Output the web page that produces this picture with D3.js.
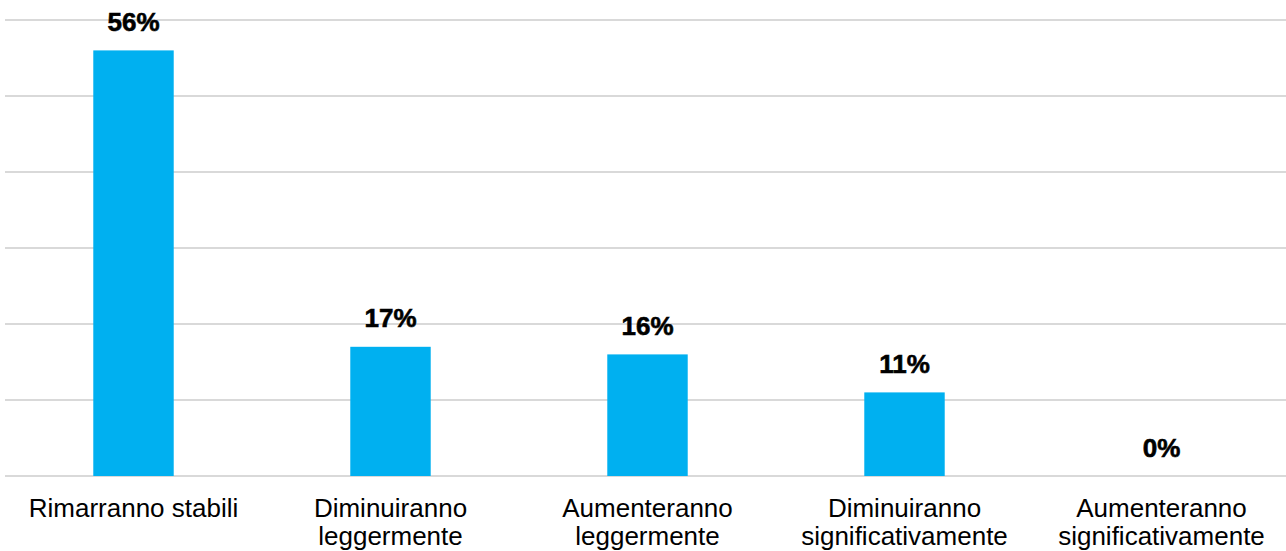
<!DOCTYPE html>
<html><head><meta charset="utf-8">
<script src="https://cdn.jsdelivr.net/npm/d3@7"></script>
<style>body{margin:0;background:#fff}svg{display:block}</style>
</head><body>
<svg id="c" width="1286" height="551"></svg>
<script>
const categories = [["Rimarranno stabili"],["Diminuiranno","leggermente"],["Aumenteranno","leggermente"],["Diminuiranno","significativamente"],["Aumenteranno","significativamente"]];
const values = [56, 17, 16, 11, 0];
const yTicks = [0, 10, 20, 30, 40, 50, 60];

const svg = d3.select("#c");
const W = 1286, H = 551;
const x = d3.scaleBand().domain(d3.range(categories.length)).range([5, 1290]).paddingInner(0.687).paddingOuter(0.3435);
const y = d3.scaleLinear().domain([0, 60]).range([476, 20]);

svg.append("g").selectAll("line").data(yTicks).join("line")
  .attr("x1", 5).attr("x2", W).attr("y1", d => y(d)).attr("y2", d => y(d))
  .attr("stroke", "#d9d9d9").attr("stroke-width", 2);

svg.append("g").selectAll("rect").data(values).join("rect")
  .attr("x", (d,i) => x(i)).attr("width", x.bandwidth())
  .attr("y", d => y(d)).attr("height", d => y(0) - y(d))
  .attr("fill", "#00b0f0");

svg.append("g").selectAll("text").data(values).join("text")
  .attr("x", (d,i) => x(i) + x.bandwidth()/2).attr("y", d => y(d) - 19.5)
  .attr("text-anchor", "middle").attr("font-family", "Liberation Sans, Arial, sans-serif")
  .attr("font-weight", "bold").attr("font-size", 26).attr("fill", "#000")
  .attr("stroke", "#000").attr("stroke-width", 0.6)
  .text(d => d + "%");

const lab = svg.append("g").selectAll("text").data(categories).join("text")
  .attr("x", (d,i) => x(i) + x.bandwidth()/2).attr("y", 517)
  .attr("text-anchor", "middle").attr("font-family", "Liberation Sans, Arial, sans-serif")
  .attr("font-size", 26).attr("fill", "#000");
lab.selectAll("tspan").data(d => d).join("tspan")
  .attr("x", function(){ return this.parentNode.getAttribute("x"); })
  .attr("dy", (d,i) => i === 0 ? 0 : 28)
  .text(d => d);
</script>
</body></html>
